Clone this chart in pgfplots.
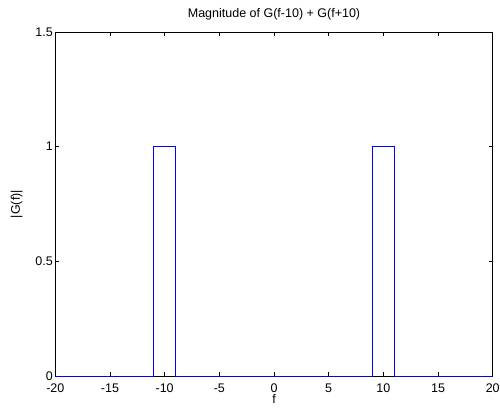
\documentclass[border=0pt]{standalone}
\usepackage{pgfplots}
\pgfplotsset{compat=1.18}
\usepackage{fontspec}
\setmainfont{Liberation Sans}
\begin{document}
\begin{tikzpicture}[x=1pt,y=1pt]
\useasboundingbox (-55.3,-32) rectangle (444.7,376);
\begin{axis}[
  at={(0,0)}, anchor=south west,
  scale only axis, width=437.4pt, height=344pt,
  xmin=-20, xmax=20, ymin=0, ymax=1.5,
  xtick={-20,-15,...,20}, ytick={0,0.5,1,1.5},
  tick align=inside, major tick length=4pt,
  tick style={black, line width=0.5pt},
  axis line style={line width=0.6pt},
  /pgf/number format/assume math mode=true,
  ticklabel style={font=\fontsize{12.5}{14}\selectfont},
  xticklabel style={yshift=-4pt},
  yticklabel style={/pgf/number format/fixed, xshift=1pt},
  title={Magnitude of G(f-10) + G(f+10)},
  title style={font=\fontsize{12.5}{14}\selectfont, yshift=2pt},
  xlabel={f}, ylabel={|G(f)|},
  label style={font=\fontsize{12.5}{14}\selectfont},
  xlabel style={yshift=2.5pt, inner sep=1pt},
  ylabel style={yshift=6pt},
]
\addplot[blue, line width=0.6pt] coordinates {
 (-20,0) (-11,0) (-11,1) (-9,1) (-9,0) (9,0) (9,1) (11,1) (11,0) (20,0)
};
\end{axis}
\end{tikzpicture}
\end{document}
